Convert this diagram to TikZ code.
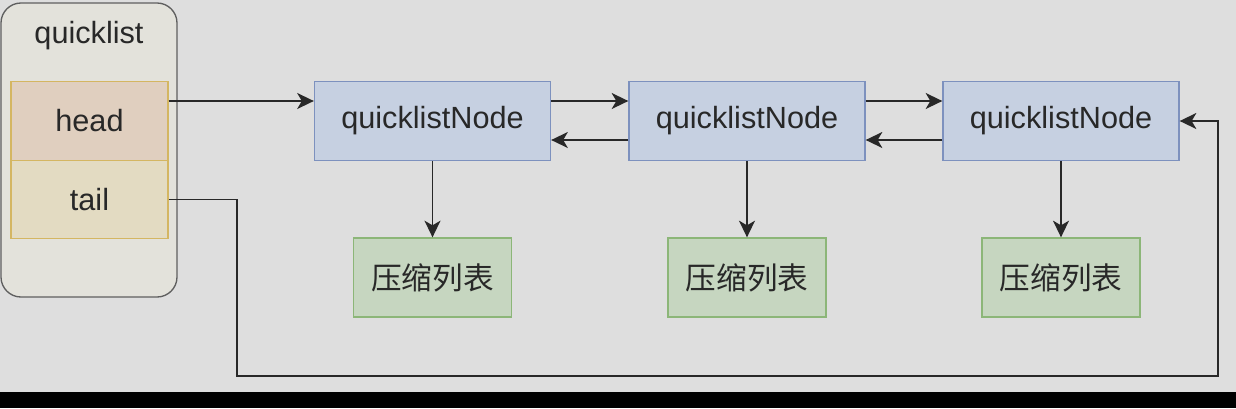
\documentclass[tikz,border=0pt]{standalone}
\usepackage{fontspec}
\setmainfont{Liberation Sans}
\newfontfamily\cjk{Noto Sans CJK SC}
\definecolor{canvas}{RGB}{222,222,222}
\definecolor{ink}{RGB}{40,40,40}
\definecolor{listfill}{RGB}{227,226,219}
\definecolor{listline}{RGB}{95,95,95}
\definecolor{headfill}{RGB}{224,207,191}
\definecolor{tailfill}{RGB}{227,219,194}
\definecolor{fieldline}{RGB}{212,182,98}
\definecolor{qnfill}{RGB}{198,208,225}
\definecolor{qnline}{RGB}{125,145,190}
\definecolor{zlfill}{RGB}{198,214,192}
\definecolor{zlline}{RGB}{140,182,120}
\usetikzlibrary{arrows.meta}
\tikzset{
    field/.style={rectangle, minimum width=117.75pt, minimum height=58.9pt, inner sep=0pt, draw=fieldline, line width=1pt, text=ink, font=\fontsize{23}{28}\selectfont},
    qnode/.style={rectangle, minimum width=177pt, minimum height=59.25pt, inner sep=0pt, draw=qnline, fill=qnfill, line width=1pt, text=ink, font=\fontsize{23}{28}\selectfont},
    ziplist/.style={rectangle, minimum width=118.5pt, minimum height=59.25pt, inner sep=0pt, draw=zlline, fill=zlfill, line width=1pt, text=ink, font=\cjk\fontsize{23}{28}\selectfont},
    arrow/.style={line width=1.2pt, ink, -{Stealth[length=12.5pt, width=12pt, inset=3.5pt]}}
}
\begin{document}
\begin{tikzpicture}[x=0.75pt, y=-0.75pt]
                % page and background
                \fill[black] (0,0) rectangle (1236,408);
                \fill[canvas] (0,0) rectangle (1236,392);
                \useasboundingbox (0,0) rectangle (1236,408);
                % quicklist struct
                \node[rectangle, rounded corners=15pt, minimum width=132pt, minimum height=220.5pt, draw=listline, fill=listfill, line width=1pt] (ql) at (89,150) {};
                \node[text=ink, font=\fontsize{23}{28}\selectfont] (qltitle) at (89,36) {quicklist};
                \node[field, fill=headfill] (head) at (89.5,121) {head};
                \node[field, fill=tailfill] (tail) at (89.5,199.5) {tail};
                % quicklist nodes
                \node[qnode] (qn1) at (432.5,121) {quicklistNode};
                \node[qnode] (qn2) at (747,121) {quicklistNode};
                \node[qnode] (qn3) at (1061,121) {quicklistNode};
                % compressed lists
                \node[ziplist] (zl1) at (432.5,277.5) {压缩列表};
                \node[ziplist] (zl2) at (747,277.5) {压缩列表};
                \node[ziplist] (zl3) at (1061,277.5) {压缩列表};
                % pointers
                \draw[arrow] ([yshift=15pt]head.east) -- ([yshift=15pt]qn1.west);
                \draw[arrow] ([yshift=15pt]qn1.east) -- ([yshift=15pt]qn2.west);
                \draw[arrow] ([yshift=-14.25pt]qn2.west) -- ([yshift=-14.25pt]qn1.east);
                \draw[arrow] ([yshift=15pt]qn2.east) -- ([yshift=15pt]qn3.west);
                \draw[arrow] ([yshift=-14.25pt]qn3.west) -- ([yshift=-14.25pt]qn2.east);
                \draw[arrow] (qn1.south) -- (zl1.north);
                \draw[arrow] (qn2.south) -- (zl2.north);
                \draw[arrow] (qn3.south) -- (zl3.north);
                % tail pointer round the bottom
                \coordinate (tailturn) at (237,376);
                \coordinate (rightturn) at (1218,376);
                \draw[arrow] (tail.east) -| (tailturn) -- (rightturn) |- (qn3.east);
            \end{tikzpicture}
\end{document}
